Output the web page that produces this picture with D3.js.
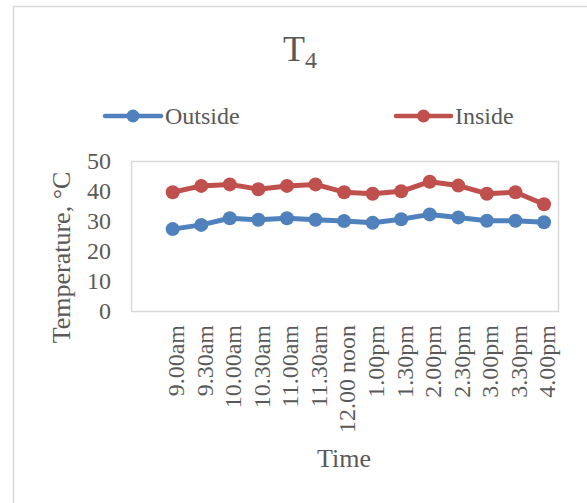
<!DOCTYPE html>
<html>
<head>
<meta charset="utf-8">
<script src="https://cdn.jsdelivr.net/npm/d3@7"></script>
<style>
  html, body { margin: 0; padding: 0; background: #ffffff; }
  svg { display: block; }
  text { font-family: "Liberation Serif", "Times New Roman", serif; fill: #595959; }
</style>
</head>
<body>
<svg id="chart" width="587" height="503"></svg>
<script>
// Time of reading (category axis)
const times = ["9.00am", "9.30am", "10.00am", "10.30am", "11.00am", "11.30am", "12.00 noon",
               "1.00pm", "1.30pm", "2.00pm", "2.30pm", "3.00pm", "3.30pm", "4.00pm"];
// Temperatures in °C
const outside = [27.3, 28.7, 30.9, 30.4, 30.9, 30.4, 30.0, 29.4, 30.6, 32.2, 31.2, 30.1, 30.1, 29.6];
const inside  = [39.6, 41.7, 42.2, 40.6, 41.7, 42.2, 39.6, 39.1, 39.9, 43.1, 41.8, 39.1, 39.6, 35.6];
// Value axis ticks
const yTicks = [0, 10, 20, 30, 40, 50];

const seriesList = [
  { name: "Outside", values: outside, color: "#4f81bd" },
  { name: "Inside",  values: inside,  color: "#c0504d" }
];

const svg = d3.select("#chart");

// Outer chart frame
svg.append("rect")
  .attr("x", 13.5).attr("y", 6.5)
  .attr("width", 600).attr("height", 520)
  .attr("fill", "none").attr("stroke", "#d9d9d9").attr("stroke-width", 1.5);

// Plot area
const plot = { left: 131, right: 558, top: 161, bottom: 311 };

const x = d3.scalePoint()
  .domain(times)
  .range([158.4, 558.3])
  .padding(0.5);

const y = d3.scaleLinear()
  .domain([0, 50])
  .range([plot.bottom, plot.top]);

svg.append("rect")
  .attr("x", plot.left + 0.5).attr("y", plot.top + 0.5)
  .attr("width", plot.right - plot.left).attr("height", plot.bottom - plot.top)
  .attr("fill", "none").attr("stroke", "#d9d9d9").attr("stroke-width", 1.5);

// Title: T with subscript 4
const title = svg.append("text")
  .attr("x", 283).attr("y", 61)
  .attr("font-size", 36);
title.append("tspan").text("T");
title.append("tspan").attr("font-size", 24).attr("dy", 7).text("4");

// Legend
const legendItems = [
  { s: seriesList[0], x0: 105, x1: 161, tx: 165 },
  { s: seriesList[1], x0: 396, x1: 451, tx: 455 }
];
const lg = svg.append("g");
legendItems.forEach(item => {
  lg.append("line")
    .attr("x1", item.x0).attr("x2", item.x1)
    .attr("y1", 116).attr("y2", 116)
    .attr("stroke", item.s.color).attr("stroke-width", 4.5)
    .attr("stroke-linecap", "round");
  lg.append("circle")
    .attr("cx", (item.x0 + item.x1) / 2).attr("cy", 116).attr("r", 6.5)
    .attr("fill", item.s.color);
  lg.append("text")
    .attr("x", item.tx).attr("y", 124)
    .attr("font-size", 24)
    .text(item.s.name);
});

// Y axis tick labels
const yAxis = d3.axisLeft(y).tickValues(yTicks).tickSize(0).tickPadding(0);
const yg = svg.append("g")
  .attr("transform", `translate(111,0)`)
  .call(yAxis);
yg.select(".domain").remove();
yg.selectAll("text")
  .attr("font-size", 24)
  .attr("font-family", "Liberation Serif, Times New Roman, serif")
  .attr("fill", "#595959")
  .attr("dy", "0.33em");

// X axis category labels (rotated)
const xAxis = d3.axisBottom(x).tickSize(0).tickPadding(0);
const xg = svg.append("g")
  .attr("transform", `translate(0,${plot.bottom})`)
  .call(xAxis);
xg.select(".domain").remove();
xg.selectAll("text")
  .attr("font-size", 24)
  .attr("font-family", "Liberation Serif, Times New Roman, serif")
  .attr("fill", "#595959")
  .attr("text-anchor", "end")
  .attr("transform", "translate(0,14) rotate(-90)")
  .attr("x", 0).attr("y", 0)
  .attr("dy", "0.45em");

// Axis titles
svg.append("text")
  .attr("transform", "translate(70,257.5) rotate(-90)")
  .attr("text-anchor", "middle")
  .attr("font-size", 26)
  .text("Temperature, °C");

svg.append("text")
  .attr("x", 344).attr("y", 466.5)
  .attr("text-anchor", "middle")
  .attr("font-size", 26)
  .text("Time");

// Series lines and markers
const line = d3.line()
  .x((d, i) => x(times[i]))
  .y(d => y(d));

seriesList.forEach(s => {
  svg.append("path")
    .datum(s.values)
    .attr("d", line)
    .attr("fill", "none")
    .attr("stroke", s.color)
    .attr("stroke-width", 5)
    .attr("stroke-linejoin", "round")
    .attr("stroke-linecap", "round");
  svg.append("g")
    .selectAll("circle")
    .data(s.values)
    .join("circle")
    .attr("cx", (d, i) => x(times[i]))
    .attr("cy", d => y(d))
    .attr("r", 7)
    .attr("fill", s.color);
});
</script>
</body>
</html>
